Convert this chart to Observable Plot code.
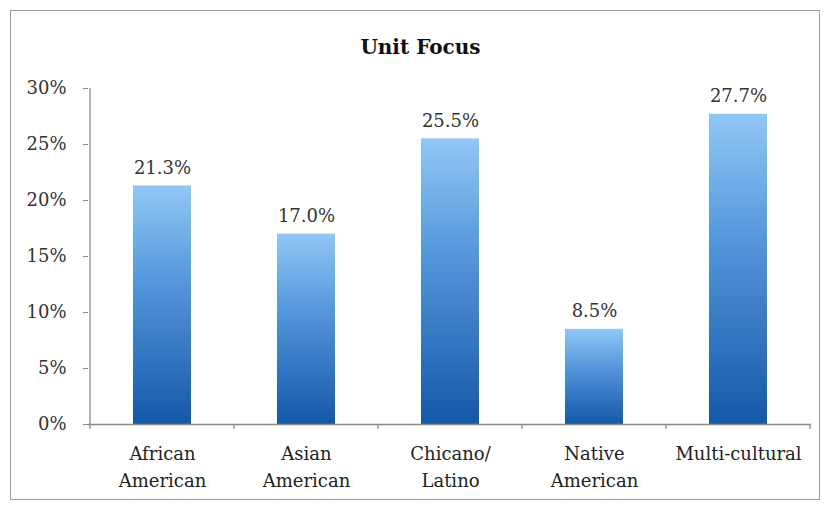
<!DOCTYPE html>
<html><head><meta charset="utf-8">
<script src="https://cdn.jsdelivr.net/npm/d3@7"></script>
<script src="https://cdn.jsdelivr.net/npm/@observablehq/plot@0.6"></script>
<style>
body{margin:0;background:#fff;}
#wrap{position:relative;width:825px;height:508px;overflow:hidden;background:#fff;}
#frame{position:absolute;left:10px;top:10px;width:810px;height:490px;border:1.5px solid #9c9c9c;box-sizing:border-box;}
#title{position:absolute;left:8px;width:825px;top:35px;text-align:center;font:bold 20px "DejaVu Serif";color:#111;}
#chart{position:absolute;left:0;top:0;}
</style></head>
<body>
<div id="wrap"><div id="frame"></div><div id="chart"></div><div id="title">Unit Focus</div></div>
<script>
const categories = ["African\nAmerican", "Asian\nAmerican", "Chicano/\nLatino", "Native\nAmerican", "Multi-cultural"];
const values = [21.3, 17.0, 25.5, 8.5, 27.7];
const yTicks = [0, 5, 10, 15, 20, 25, 30];

const data = categories.map((c, i) => ({category: c, value: values[i]}));
const font = "DejaVu Serif";

function frameMarks(index, scales, channels, dims) {
  const x = scales.x, y = scales.y;
  const step = x(categories[1]) - x(categories[0]);
  const bw = x.bandwidth ? x.bandwidth() : 0;
  const g = d3.create("svg:g").attr("stroke", "#8a8a8a").attr("stroke-width", 1.3);
  const y0 = y(0), y1 = y(30);
  const left = x(categories[0]) + bw / 2 - step / 2;
  g.append("line").attr("x1", left).attr("x2", left).attr("y1", y1).attr("y2", y0);
  categories.forEach((c, i) => {
    const b = x(c) + bw / 2 + step / 2;
    g.append("line").attr("x1", b).attr("x2", b).attr("y1", y0).attr("y2", y0 + 5);
  });
  g.append("line").attr("x1", left).attr("x2", left).attr("y1", y0).attr("y2", y0 + 5);
  return g.node();
}

const chart = Plot.plot({
  width: 825,
  height: 508,
  marginLeft: 88,
  marginRight: 14,
  marginTop: 88,
  marginBottom: 84,
  style: {fontFamily: font, fontSize: "18px", color: "#333", background: "transparent"},
  x: {domain: categories, paddingInner: 0.6, paddingOuter: 0.3, label: null},
  y: {domain: [0, 30], label: null},
  marks: [
    Plot.barY(data, {x: "category", y: "value", fill: "#3f86d2"}),
    Plot.ruleY([0], {stroke: "#8a8a8a", strokeWidth: 1.3}),
    frameMarks,
    Plot.axisY({ticks: yTicks, tickFormat: d => d + "%", tickSize: 5, tickPadding: 17, stroke: "#8a8a8a", fill: "#333", fontSize: 18, label: null}),
    Plot.axisX({tickSize: 0, tickPadding: 16, lineHeight: 1.5, fill: "#222", fontSize: 18, label: null}),
    Plot.text(data, {x: "category", y: "value", text: d => d.value.toFixed(1) + "%", dy: -12, lineAnchor: "bottom", fontSize: 18, fill: "#333"})
  ]
});

document.getElementById("chart").appendChild(chart);

const svg = d3.select(chart);
const defs = svg.insert("defs", ":first-child");
const grad = defs.append("linearGradient").attr("id", "barGrad").attr("x1", 0).attr("y1", 0).attr("x2", 0).attr("y2", 1);
grad.append("stop").attr("offset", "0%").attr("stop-color", "#92c7f5");
grad.append("stop").attr("offset", "40%").attr("stop-color", "#5597dc");
grad.append("stop").attr("offset", "100%").attr("stop-color", "#1458a8");
svg.selectAll('g[aria-label="bar"]').attr("fill", "url(#barGrad)");
svg.selectAll('g[aria-label="bar"] rect').attr("fill", "url(#barGrad)");
</script>
</body></html>
